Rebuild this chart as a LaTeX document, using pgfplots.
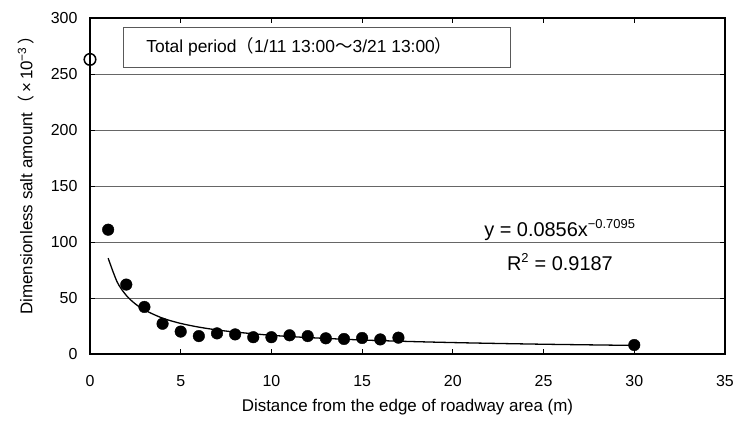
\documentclass[border=0pt]{standalone}
\usepackage{fontspec}
\setmainfont{Liberation Sans}
\newfontfamily\cjk{Noto Sans CJK JP}
\usepackage{pgfplots}
\pgfplotsset{compat=1.18}
\begin{document}
\begin{tikzpicture}
\begin{axis}[
  scale only axis, width=635bp, height=336bp,
  at={(0,0)}, anchor=south west,
  xmin=0, xmax=35, ymin=0, ymax=300,
  xtick={0,5,...,35}, ytick={0,50,...,300},
  tick align=inside, major tick length=5bp,
  tick style={black, line width=0.8pt},
  axis line style={black, line width=1.8pt},
  ymajorgrids, grid style={gray!80!black, line width=0.8pt},
  /pgf/number format/assume math mode=true,
  ticklabel style={font=\fontsize{16}{18}\selectfont},
  xticklabel style={yshift=-18bp},
  yticklabel style={xshift=-9bp},
  xlabel={Distance from the edge of roadway area (m)},
  ylabel={Dimensionless salt amount{\cjk（}\,×\,10\textsuperscript{−3}\,{\cjk）}},
  xlabel style={font=\fontsize{17}{19}\selectfont, yshift=-6bp},
  ylabel style={font=\fontsize{17}{19}\selectfont, yshift=10bp, xshift=15bp},
  clip=false,
]
\addplot[black, line width=1.3pt, smooth] coordinates {
 (1,85.6) (1.5,64.2) (2,52.3) (2.5,44.7) (3,39.3) (4,32.0) (5,27.3) (6,24.0)
 (7,21.5) (8,19.6) (10,16.7) (12,14.7) (15,12.5) (18,11.0) (21,9.87) (25,8.72) (30,7.66)};
\addplot[only marks, mark=*, mark size=5.8bp, black] coordinates {
 (1,111) (2,62) (3,42) (4,27) (5,20) (6,16) (7,18.4) (8,17.5) (9,15) (10,15)
 (11,16.7) (12,16) (13,14) (14,13.4) (15,14.3) (16,13) (17,14.6) (30,8)};
\addplot[only marks, mark=o, mark size=5.8bp, black, mark options={line width=1.5pt}] coordinates {(0,263)};
\draw[draw=gray!70!black, fill=white, line width=0.8pt] (axis cs:1.82,256) rectangle (axis cs:23.15,292);
\node[anchor=west, inner sep=0pt, font=\fontsize{17.5}{19}\selectfont] at (axis cs:3.1,274)
  {Total period{\cjk（}1/11 13:00{\cjk～}3/21 13:00{\cjk）}};
\node[font=\fontsize{20}{22}\selectfont] at (axis cs:25.9,110.7) {y = 0.0856x\textsuperscript{\fontsize{13}{14}\selectfont −0.7095}};
\node[font=\fontsize{20}{22}\selectfont] at (axis cs:25.9,82) {R\textsuperscript{\fontsize{13}{14}\selectfont 2} = 0.9187};
\end{axis}
\pgfresetboundingbox
\path (-90bp,-68bp) rectangle (646bp,354bp);
\end{tikzpicture}
\end{document}
